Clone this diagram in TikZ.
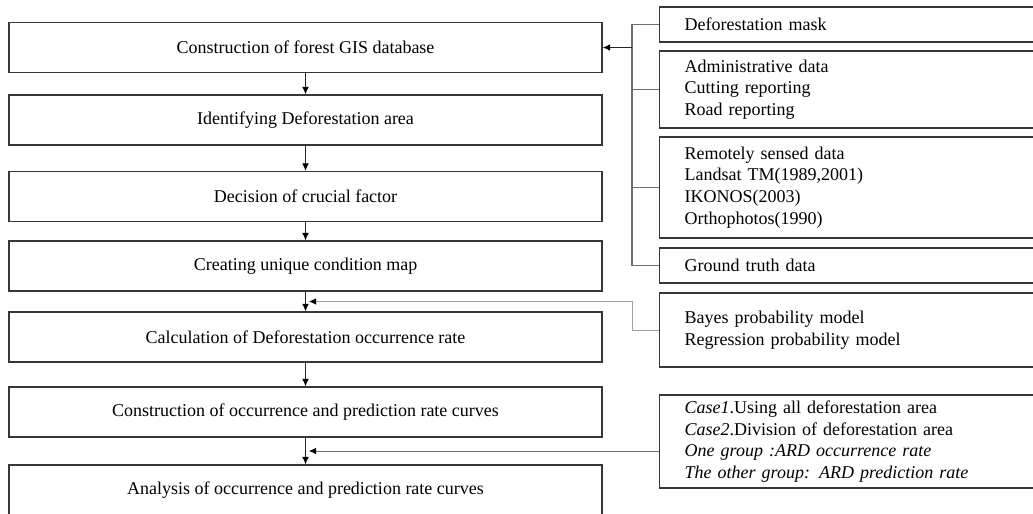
\documentclass[tikz,border=0pt]{standalone}
\usepackage{fontspec}
\setmainfont{Liberation Serif}
\usepackage{tikz}
\usetikzlibrary{calc}
\usetikzlibrary{arrows.meta}
\definecolor{boxline}{RGB}{55, 55, 55}
\definecolor{busline}{RGB}{110, 110, 110}
\definecolor{modelline}{RGB}{160, 160, 160}

\tikzset{
  stepbox/.style={draw=boxline, line width=1.1pt, minimum width=444.75pt, minimum height=37.5pt,
                  inner sep=0pt, font=\fontsize{13.5}{16}\selectfont},
  databox/.style={draw=boxline, line width=1.1pt, anchor=west, text width=252pt, inner xsep=18.75pt,
                  inner ysep=0pt, align=left, font=\fontsize{13.5}{16.3}\selectfont},
  flow/.style={draw=black!85, line width=0.7pt, -{Latex[length=5.5pt, width=5pt, color=black]}},
  bus/.style={draw=busline, line width=0.8pt},
}

\begin{document}
\begin{tikzpicture}[x=0.75pt, y=-0.75pt]
            \useasboundingbox (0,0) rectangle (1033,514);
            \clip (0,0) rectangle (1033,514);
            \node[stepbox] (gis)      at (305.5, 47.5) {Construction of forest GIS database};
            \node[stepbox] (identify) at (305.5,120.0) {Identifying Deforestation area};
            \node[stepbox] (factor)   at (305.5,196.5) {Decision of crucial factor};
            \node[stepbox] (unique)   at (305.5,266.0) {Creating unique condition map};
            \node[stepbox] (rate)     at (305.5,337.0) {Calculation of Deforestation occurrence rate};
            \node[stepbox] (curves)   at (305.5,412.0) {Construction of occurrence and prediction rate curves};
            \node[stepbox] (analysis) at (305.5,490.0) {Analysis of occurrence and prediction rate curves};
            \node[databox, minimum height=26.25pt] (mask)   at (659, 24.5) {Deforestation mask};
            \node[databox, minimum height=57.75pt] (admin)  at (659, 89.5) {Administrative data\\Cutting reporting\\Road reporting};
            \node[databox, minimum height=75.75pt] (remote) at (659,187.5) {Remotely sensed data\\Landsat TM(1989,2001)\\IKONOS(2003)\\Orthophotos(1990)};
            \node[databox, minimum height=26.25pt] (truth)  at (659,265.5) {Ground truth data};
            \node[databox, minimum height=55.5pt]  (bayes)  at (659,330.0) {Bayes probability model\\Regression probability model};
            \node[databox, minimum height=69.75pt] (cases)  at (659,441.5)
                 {\textit{Case1}.Using all deforestation area\\\textit{Case2}.Division of deforestation area\\
                  \textit{One group :ARD occurrence rate}\\\textit{The other group: ARD prediction rate}};
            \draw[flow] (gis) -- (identify);
            \draw[flow] (identify) -- (factor);
            \draw[flow] (factor) -- (unique);
            \draw[flow] (unique) -- (rate);
            \draw[flow] (rate) -- (curves);
            \draw[flow] (curves) -- (analysis);
            \coordinate (bus) at (632,47.5);
            \draw[bus] (mask.west) -| (bus);
            \draw[bus] (truth.west) -| (bus);
            \draw[bus] (admin.west) -- (admin.west -| bus);
            \draw[bus] (remote.west) -- (remote.west -| bus);
            \draw[flow] (bus) -- (gis.east);
            \coordinate (bayesjoin) at ($(unique.south)!0.5!(rate.north)$);
            \draw[flow, draw=modelline] (bayes.west) -- ++(-27,0) |- ([xshift=2.5pt]bayesjoin);
            \coordinate (casejoin) at ($(curves.south)!0.5!(analysis.north)$);
            \draw[flow, draw=busline] (casejoin -| cases.west) -- ([xshift=2.5pt]casejoin);
        \end{tikzpicture}
\end{document}
